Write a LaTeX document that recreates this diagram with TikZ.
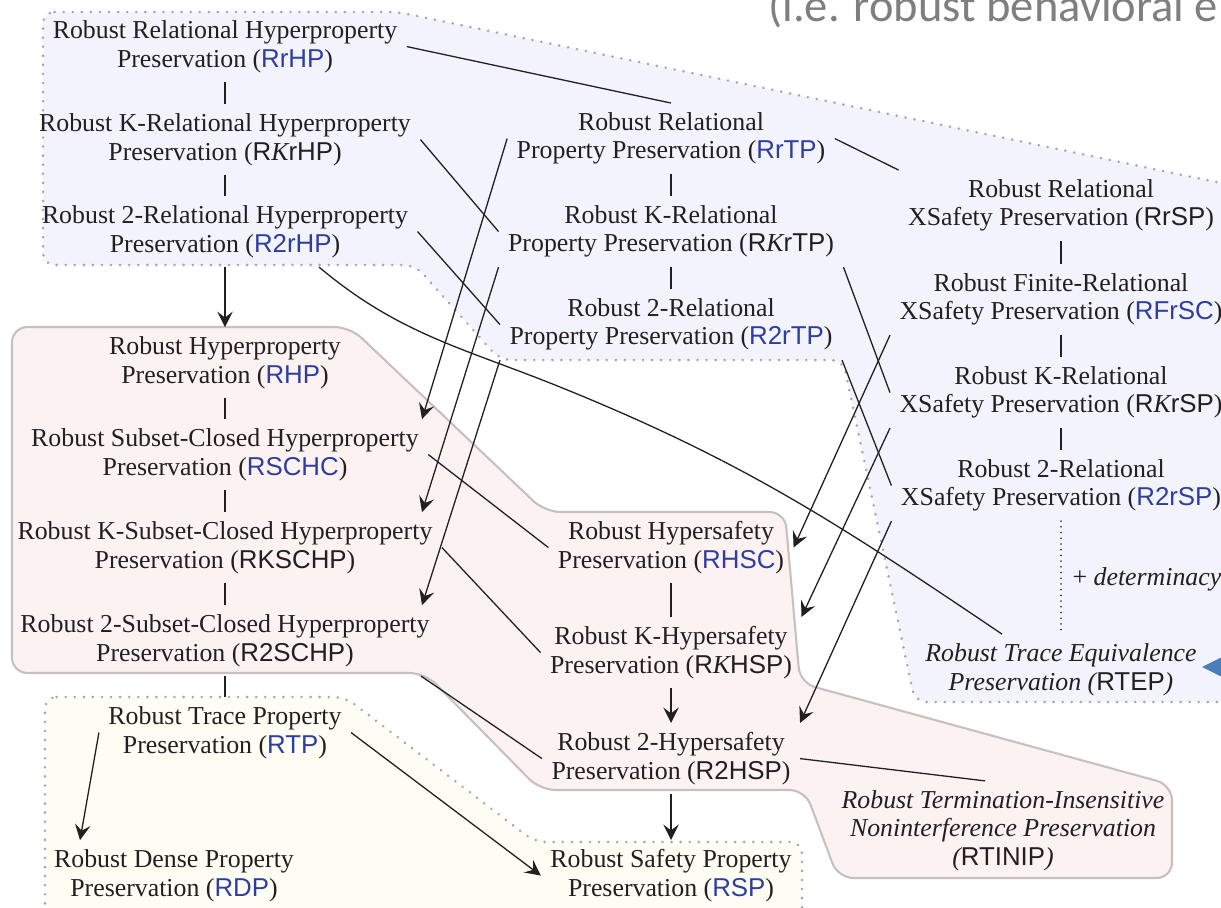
\documentclass[tikz,border=0pt]{standalone}
\usepackage{fontspec}
\setmainfont{Liberation Serif}
\setsansfont{Liberation Sans}
\newfontfamily\notefont{Carlito}
\usetikzlibrary{arrows.meta,calc}
\definecolor{ink}{RGB}{35,31,32}
\definecolor{abblue}{RGB}{45,62,158}
\definecolor{relfill}{RGB}{243,243,253}
\definecolor{hypfill}{RGB}{253,242,242}
\definecolor{trcfill}{RGB}{253,253,244}
\definecolor{edgegray}{RGB}{165,165,175}
\definecolor{pinkedge}{RGB}{198,192,192}
\definecolor{notegray}{RGB}{127,127,127}
\definecolor{tipblue}{RGB}{74,126,187}
\newcommand\ab[1]{\textcolor{abblue}{\textsf{\upshape #1}}}
\newcommand\abk[1]{\textsf{\upshape #1}}
\newcommand\Kit{{\rmfamily\itshape K}}
\begin{document}
\begin{tikzpicture}[x=0.387pt,y=-0.387pt,
  prop/.style={align=center, inner sep=3.5pt, text=ink, font=\fontsize{10}{11}\selectfont},
  iprop/.style={prop, font=\fontsize{10}{11}\selectfont\itshape},
  link/.style={draw=ink, line width=0.5pt},
  imp/.style={link, -{Stealth[length=6pt,width=6pt,inset=2.3pt]}},
  dotlink/.style={draw=ink, line width=0.6pt, dash pattern=on 0.01pt off 2.2pt, line cap=round},
  dotbox/.style={draw=edgegray, line width=1.1pt, dash pattern=on 0.01pt off 3.5pt, line cap=round, rounded corners=4.5pt},
  hypbox/.style={draw=pinkedge, line width=0.8pt, fill=hypfill, rounded corners=6pt},
]
\useasboundingbox (0,0) rectangle (1221,907);
\fill[white] (0,0) rectangle (1221,907);

% property classes
\path[dotbox, fill=relfill] (43,12) -- (398,12) -- (1245,188) -- (1245,702) -- (915,702)
  -- (843,360) -- (500,360) -- (415,265) -- (43,265) -- cycle;
\path[hypbox] (12,327) -- (350,327) -- (545,512) -- (785,512) -- (800,683) -- (1172,785)
  -- (1172,878) -- (838,878) -- (805,790) -- (540,790) -- (425,673) -- (12,673) -- cycle;
\path[dotbox, fill=trcfill] (45,697) -- (345,697) -- (535,842) -- (802,842) -- (802,940)
  -- (45,940) -- cycle;

% heading fragment and pointer
\node[anchor=base west, inner sep=0, text=notegray, font=\notefont\fontsize{18}{21}\selectfont] (note) at (768,22) {(i.e. robust behavioral e};
\fill[tipblue] (1202,667) -- (1240,648) -- (1240,686) -- cycle;

\begin{scope}[yshift=-1pt]
% left column
\node[prop] (RrHP) at (225,44) {Robust Relational Hyperproperty\\Preservation (\ab{RrHP})};
\node[prop] (RKrHP) at (225,137) {Robust K-Relational Hyperproperty\\Preservation (\abk{R\Kit rHP})};
\node[prop] (R2rHP) at (225,229) {Robust 2-Relational Hyperproperty\\Preservation (\ab{R2rHP})};
\node[prop] (RHP) at (225,360) {Robust Hyperproperty\\Preservation (\ab{RHP})};
\node[prop] (RSCHC) at (225,452) {Robust Subset-Closed Hyperproperty\\Preservation (\ab{RSCHC})};
\node[prop] (RKSCHP) at (225,545) {Robust K-Subset-Closed Hyperproperty\\Preservation (\abk{RKSCHP})};
\node[prop] (R2SCHP) at (225,638) {Robust 2-Subset-Closed Hyperproperty\\Preservation (\abk{R2SCHP})};
\node[prop] (RTP) at (225,730) {Robust Trace Property\\Preservation (\ab{RTP})};
\node[prop] (RDP) at (174,873) {Robust Dense Property\\Preservation (\ab{RDP})};

% middle column
\node[prop] (RrTP) at (671,136) {Robust Relational\\Property Preservation (\ab{RrTP})};
\node[prop] (RKrTP) at (671,229) {Robust K-Relational\\Property Preservation (\abk{R\Kit rTP})};
\node[prop] (R2rTP) at (671,322) {Robust 2-Relational\\Property Preservation (\ab{R2rTP})};
\node[prop] (RHSC) at (671,545) {Robust Hypersafety\\Preservation (\ab{RHSC})};
\node[prop] (RKHSP) at (671,650) {Robust K-Hypersafety\\Preservation (\abk{R\Kit HSP})};
\node[prop] (R2HSP) at (671,756) {Robust 2-Hypersafety\\Preservation (\abk{R2HSP})};
\node[prop] (RSP) at (671,873) {Robust Safety Property\\Preservation (\ab{RSP})};

% right column
\node[prop] (RrSP) at (1061,203) {Robust Relational\\XSafety Preservation (\abk{RrSP})};
\node[prop] (RFrSC) at (1061,297) {Robust Finite-Relational\\XSafety Preservation (\ab{RFrSC})};
\node[prop] (RKrSP) at (1061,390) {Robust K-Relational\\XSafety Preservation (\abk{R\Kit rSP})};
\node[prop] (R2rSP) at (1061,483) {Robust 2-Relational\\XSafety Preservation (\ab{R2rSP})};
\node[prop, anchor=west] (det) at (1063,577) {+ \textit{determinacy}};
\node[iprop] (RTEP) at (1061,667) {Robust Trace Equivalence\\Preservation (\abk{RTEP})};
\node[iprop] (RTINIP) at (1003,828) {Robust Termination-Insensitive\\Noninterference Preservation\\(\abk{RTINIP})};
\end{scope}

% chains inside the columns
\draw[link] (RrHP.south) -- (RKrHP.north);
\draw[link] (RKrHP.south) -- (R2rHP.north);
\draw[imp] (R2rHP.south) -- (RHP.north);
\draw[link] (RHP.south) -- (RSCHC.north);
\draw[link] (RSCHC.south) -- (RKSCHP.north);
\draw[link] (RKSCHP.south) -- (R2SCHP.north);
\draw[link] (R2SCHP.south) -- (RTP.north);
\draw[imp] (RTP.west) -- ($(RDP.north)+(-94,0)$);
\draw[imp] (RTP.east) -- (RSP.west);
\draw[link] (RrTP.south) -- (RKrTP.north);
\draw[link] (RKrTP.south) -- (R2rTP.north);
\draw[link] (RHSC.south) -- (RKHSP.north);
\draw[imp] (RKHSP.south) -- (R2HSP.north);
\draw[imp] (R2HSP.south) -- (RSP.north);
\draw[link] (RrSP.south) -- (RFrSC.north);
\draw[link] (RFrSC.south) -- (RKrSP.north);
\draw[link] (RKrSP.south) -- (R2rSP.north);
\draw[dotlink] (R2rSP.south) -- (RTEP.north);

% links across the columns
\draw[link] (RrHP.east) -- (RrTP.north);
\draw[link] (RKrHP.east) -- (RKrTP.west);
\draw[link] (R2rHP.east) -- (R2rTP.west);
\draw[link] (RrTP.east) -- (RrSP.north west);
\draw[link] (RKrTP.south east) -- (RKrSP.west);
\draw[link] (R2rTP.south east) -- (R2rSP.west);
\draw[imp] (RrTP.west) -- ($(RSCHC.north)+(197,0)$);
\draw[imp] (RKrTP.south west) -- ($(RKSCHP.north)+(197,0)$);
\draw[imp] (R2rTP.south west) -- ($(R2SCHP.north)+(197,0)$);
\draw[link] (RSCHC.east) -- (RHSC.west);
\draw[link] (RKSCHP.east) -- (RKHSP.west);
\draw[link] ($(R2SCHP.south)+(196,0)$) -- (R2HSP.west);
\draw[imp] (RFrSC.south west) -- (RHSC.east);
\draw[imp] (RKrSP.south west) -- (RKHSP.north east);
\draw[imp] (R2rSP.south west) -- (R2HSP.north east);
\draw[link] (R2HSP.east) -- ($(RTINIP.north)+(-18,0)$);
\coordinate (bend) at (560,387);
\draw[link] ($(R2rHP.south)+(94,0)$) to[out=-40,in=158] (bend) to[out=-22,in=146] ($(RTEP.north)+(-59,0)$);
\end{tikzpicture}
\end{document}
